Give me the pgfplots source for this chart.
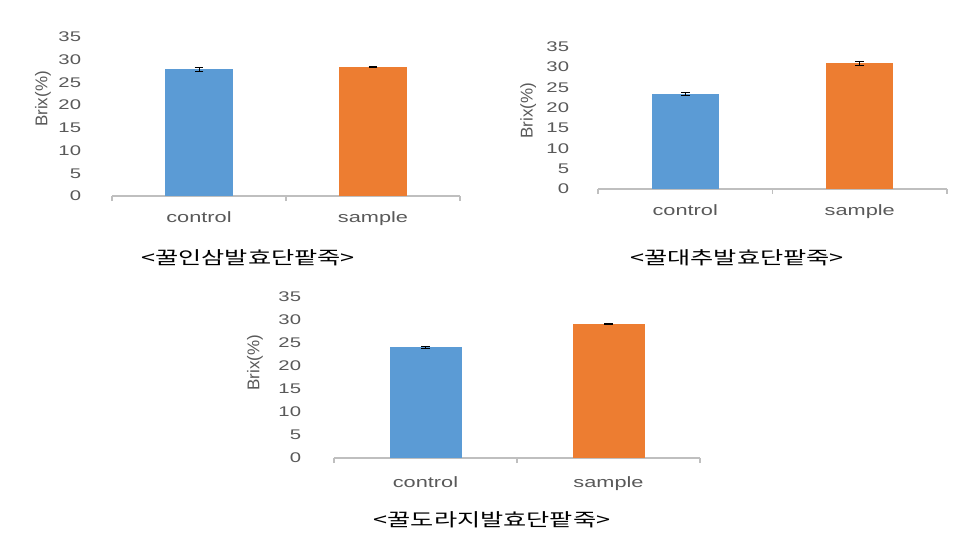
\documentclass[border=0pt]{standalone}
\usepackage{fontspec}
\setmainfont{Liberation Sans}
\newfontfamily\widefont[FakeStretch=1.45]{Liberation Sans}
\newfontfamily\krfont[FakeStretch=1.4]{Noto Sans CJK KR}
\usepackage{pgfplots}
\pgfplotsset{compat=1.18}
\definecolor{cblue}{HTML}{5B9BD5}
\definecolor{corange}{HTML}{ED7D31}
\definecolor{tgray}{HTML}{595959}
\definecolor{agray}{HTML}{BFBFBF}
\pgfplotsset{
  brixaxis/.style={
    scale only axis,
    anchor=south west,
    ymin=0, ymax=35,
    xmin=-0.5, xmax=1.5,
    ytick={0,5,...,35},
    xtick={0,1},
    xticklabels={control,sample},
    minor xtick={-0.5,0.5,1.5},
    axis x line*=bottom,
    axis y line*=left,
    y axis line style={draw=none},
    x axis line style={agray, line width=0.6pt},
    ytick style={draw=none},
    major x tick style={draw=none},
    minor x tick style={agray, line width=0.6pt},
    minor tick length=2.5pt,
    tick align=outside,
    /pgf/number format/assume math mode=true,
    ticklabel style={font=\widefont\fontsize{7}{8}\selectfont, text=tgray},
    xticklabel style={font=\widefont\fontsize{7.5}{8}\selectfont, text=tgray, anchor=base, inner sep=0pt},
    ylabel={Brix(\%)},
    ylabel style={font=\fontsize{8.5}{9}\selectfont, text=tgray, anchor=center, rotate=0},
    clip=false,
    error bars/y dir=both,
    error bars/y explicit,
    error bars/error bar style={black, line width=0.5pt},
    error bars/error mark options={rotate=90, black, mark size=2.2pt, line width=0.5pt},
  },
}
\begin{document}
\begin{tikzpicture}
\useasboundingbox (0,0) rectangle (482pt,271pt);
% Panel 1
\begin{axis}[brixaxis,
  at={(56pt,173pt)}, width=174pt, height=79.5pt,
  yticklabel style={anchor=east, inner sep=0pt, xshift=-11pt},
  xticklabel style={yshift=-8.8pt},
  ylabel style={at={(axis description cs:-0.198,0.61)}},
  bar width=34pt]
\addplot[ybar, bar shift=0pt, fill=cblue, draw=none] coordinates {(0,27.9) +- (0,0.45)};
\addplot[ybar, bar shift=0pt, fill=corange, draw=none] coordinates {(1,28.3) +- (0,0.1)};
\end{axis}
% Panel 2
\begin{axis}[brixaxis,
  at={(299pt,176.5pt)}, width=174.5pt, height=71.15pt,
  yticklabel style={anchor=east, inner sep=0pt, xshift=-10pt},
  xticklabel style={yshift=-9pt},
  ylabel style={at={(axis description cs:-0.2,0.55)}},
  bar width=33.5pt]
\addplot[ybar, bar shift=0pt, fill=cblue, draw=none] coordinates {(0,23.4) +- (0,0.4)};
\addplot[ybar, bar shift=0pt, fill=corange, draw=none] coordinates {(1,30.9) +- (0,0.5)};
\end{axis}
% Panel 3
\begin{axis}[brixaxis,
  at={(167pt,42pt)}, width=183pt, height=80.65pt,
  yticklabel style={anchor=east, inner sep=0pt, xshift=-12pt},
  xticklabel style={yshift=-10.5pt},
  ylabel style={at={(axis description cs:-0.216,0.59)}},
  bar width=36pt]
\addplot[ybar, bar shift=0pt, fill=cblue, draw=none] coordinates {(0,24.0) +- (0,0.3)};
\addplot[ybar, bar shift=0pt, fill=corange, draw=none] coordinates {(1,29.1) +- (0,0.1)};
\end{axis}
% Captions
\node[font=\krfont\fontsize{9}{10}\selectfont, anchor=center] at (124pt,142pt) {<꿀인삼발효단팥죽>};
\node[font=\krfont\fontsize{9}{10}\selectfont, anchor=center] at (368.5pt,142pt) {<꿀대추발효단팥죽>};
\node[font=\krfont\fontsize{9}{10}\selectfont, anchor=center] at (246pt,11pt) {<꿀도라지발효단팥죽>};
\end{tikzpicture}
\end{document}
